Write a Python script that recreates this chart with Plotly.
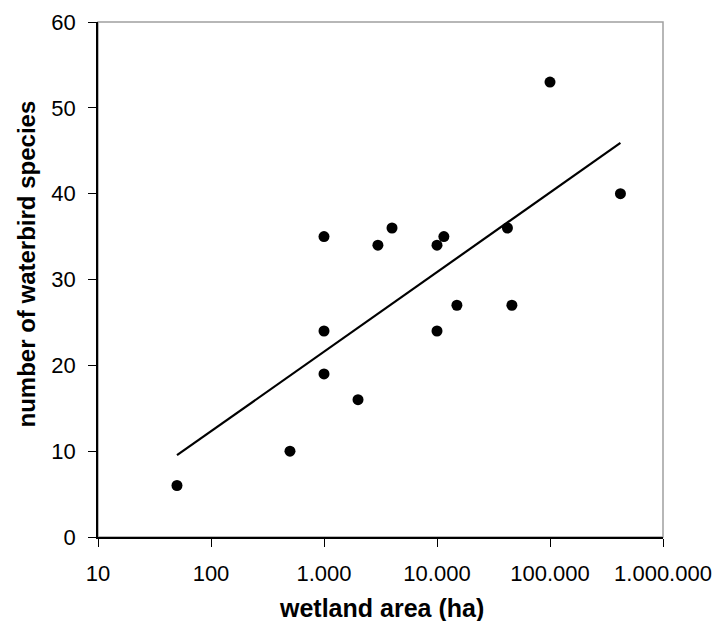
import numpy as np
import plotly.graph_objects as go

# Data
wetland_area_ha = [50, 500, 1000, 1000, 1000, 2000, 3000, 4000,
                   10000, 10000, 11500, 15000, 42000, 46000, 100000, 420000]
waterbird_species = [6, 10, 24, 19, 35, 16, 34, 36,
                     34, 24, 35, 27, 36, 27, 53, 40]

x_tick_vals = [10, 100, 1000, 10000, 100000, 1000000]
x_tick_text = ["10", "100", "1.000", "10.000", "100.000", "1.000.000"]
y_tick_vals = [0, 10, 20, 30, 40, 50, 60]

x_title = "wetland area (ha)"
y_title = "number of waterbird species"

# Logarithmic trend line (least squares of y on log10(x))
lx = np.log10(wetland_area_ha)
b, a = np.polyfit(lx, waterbird_species, 1)
trend_x = [min(wetland_area_ha), max(wetland_area_ha)]
trend_y = [a + b * np.log10(v) for v in trend_x]

FONT = "Arial, 'Liberation Sans', sans-serif"

fig = go.Figure()
fig.add_trace(go.Scatter(
    x=trend_x, y=trend_y, mode="lines",
    line=dict(color="black", width=2.2), hoverinfo="skip", showlegend=False))
fig.add_trace(go.Scatter(
    x=wetland_area_ha, y=waterbird_species, mode="markers",
    marker=dict(color="black", size=11), showlegend=False))

fig.add_shape(type="rect", xref="paper", yref="paper", x0=0, x1=1, y0=0, y1=1,
              line=dict(color="#a0a0a0", width=1.5), layer="below")

fig.add_annotation(text="<b>" + x_title + "</b>", xref="paper", yref="paper",
                   x=0.5, y=0, xshift=1, yshift=-71, showarrow=False,
                   xanchor="center", yanchor="middle",
                   font=dict(size=25, family=FONT, color="black"))
fig.add_annotation(text="<b>" + y_title + "</b>", xref="paper", yref="paper",
                   x=0, y=0.5, xshift=-72, yshift=15, textangle=-90, showarrow=False,
                   xanchor="center", yanchor="middle",
                   font=dict(size=24, family=FONT, color="black"))

fig.update_layout(
    width=717, height=621,
    margin=dict(l=98, r=54, t=22, b=84),
    paper_bgcolor="white", plot_bgcolor="white",
    font=dict(family=FONT, color="black"),
    xaxis=dict(
        type="log", range=[1, 6], automargin=False,
        tickvals=x_tick_vals, ticktext=x_tick_text,
        showgrid=False, zeroline=False,
        showline=True, linecolor="black", linewidth=1.5,
        ticks="outside", ticklen=8, tickcolor="black", tickwidth=1.2,
        tickfont=dict(size=22, family=FONT, color="black"),
        ticklabelstandoff=8,
    ),
    yaxis=dict(
        range=[0, 60], automargin=False, tickvals=y_tick_vals,
        showgrid=False, zeroline=False,
        showline=True, linecolor="black", linewidth=1.5,
        ticks="outside", ticklen=8, tickcolor="black", tickwidth=1.2,
        tickfont=dict(size=22, family=FONT, color="black"),
        ticklabelstandoff=8,
    ),
)

# remove the browser's default 8px body margin so the figure fills the window
fig.write_html("out.html",
               config={"displayModeBar": False},
               post_script="document.body.style.margin='0';document.body.style.overflow='hidden';")
